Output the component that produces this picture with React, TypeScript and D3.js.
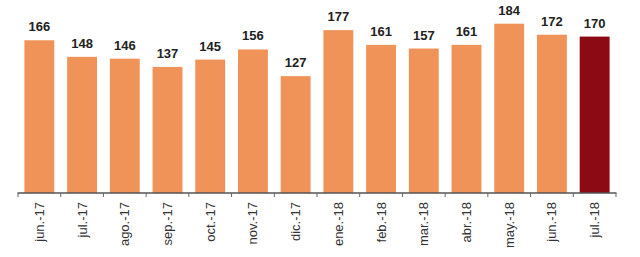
import React from "react";
import * as d3 from "d3";

const categories = ["jun.-17","jul.-17","ago.-17","sep.-17","oct.-17","nov.-17","dic.-17","ene.-18","feb.-18","mar.-18","abr.-18","may.-18","jun.-18","jul.-18"];
const values = [166,148,146,137,145,156,127,177,161,157,161,184,172,170];

const W = 640, H = 257;

export default function App() {
  const x = d3.scaleBand<string>().domain(categories).range([18, 616]).paddingInner(0.3).paddingOuter(0.15);
  const y = d3.scaleLinear().domain([0, 184]).range([193, 23.7]);
  const step = x.step();
  const boundaries = d3.range(categories.length + 1).map(i => 18 + i * step);
  return (
    <svg width={W} height={H} style={{ position: "absolute", left: 0, top: 0 }} fontFamily="Liberation Sans, Arial, sans-serif">
      <rect width={W} height={H} fill="#fff" />
      {categories.map((c, i) => (
        <rect key={c} x={x(c)} y={y(values[i])} width={x.bandwidth()} height={y(0) - y(values[i])}
          fill={i === categories.length - 1 ? "#8C0A14" : "#F09358"} />
      ))}
      {categories.map((c, i) => (
        <text key={"v" + c} x={(x(c) as number) + x.bandwidth() / 2} y={y(values[i]) - 9} textAnchor="middle"
          fontSize={13} fontWeight="bold" fill="#222">{values[i]}</text>
      ))}
      <line x1={17.5} x2={616.5} y1={193} y2={193} stroke="#555" strokeWidth={1.5} />
      {boundaries.map((b, i) => (
        <line key={"t" + i} x1={b} x2={b} y1={193} y2={197} stroke="#666" strokeWidth={1} />
      ))}
      {categories.map(c => {
        const cx = (x(c) as number) + x.bandwidth() / 2;
        return (
          <text key={"l" + c} transform={`translate(${cx + 4.5},202) rotate(-90)`} textAnchor="end"
            fontSize={13} fill="#333">{c}</text>
        );
      })}
    </svg>
  );
}
